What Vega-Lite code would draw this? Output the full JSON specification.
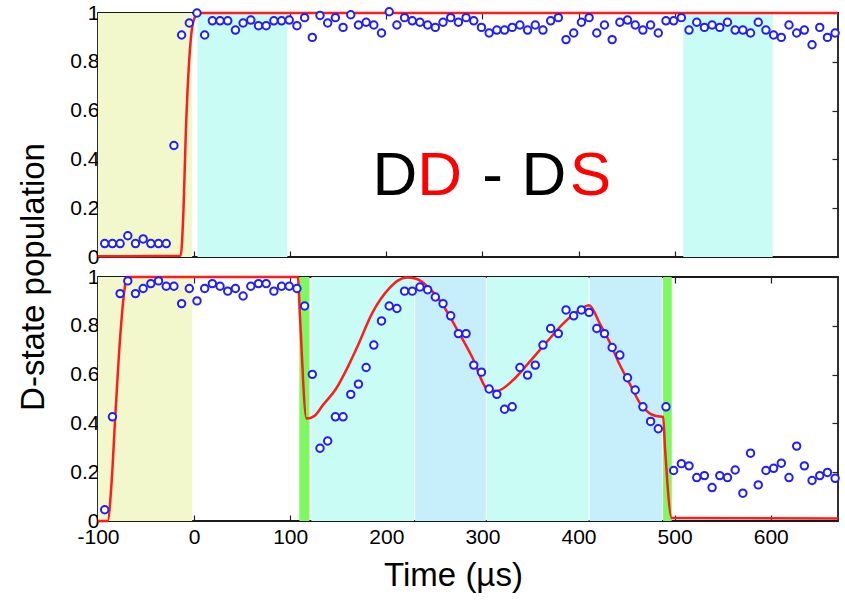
{
  "$schema": "https://vega.github.io/schema/vega-lite/v6.json",
  "background": "white",
  "padding": {"left": 17, "top": 1, "right": 5, "bottom": 2},
  "spacing": 20,
  "bounds": "flush",
  "title": {"text": "D-state population", "orient": "left", "anchor": "middle", "font": "Liberation Sans", "fontSize": 33, "fontWeight": "normal", "color": "black", "offset": 18, "dx": 20},
  "config": {
    "view": {"stroke": "#1a1a1a", "strokeWidth": 1.8},
    "axis": {"domain": false, "grid": false, "minExtent": 0, "tickColor": "#222222", "tickWidth": 1.2, "tickSize": -6, "labelColor": "black", "labelFont": "Liberation Sans", "labelFontSize": 21, "labelFlush": false, "labelOverlap": false, "titleFont": "Liberation Sans", "titleFontSize": 33, "titleFontWeight": "normal", "titleColor": "black", "zindex": 1}
  },
  "datasets": {
    "bands": [
      {"panel": "top", "start": -100, "end": -2, "kind": "yellow"},
      {"panel": "top", "start": 3.5, "end": 97, "kind": "cyan"},
      {"panel": "top", "start": 509, "end": 602, "kind": "cyan"},
      {"panel": "bottom", "start": -100, "end": -2, "kind": "yellow"},
      {"panel": "bottom", "start": 109.5, "end": 120, "kind": "green"},
      {"panel": "bottom", "start": 122, "end": 229, "kind": "cyan"},
      {"panel": "bottom", "start": 230, "end": 303.5, "kind": "lightblue"},
      {"panel": "bottom", "start": 304.5, "end": 410.5, "kind": "cyan"},
      {"panel": "bottom", "start": 411.5, "end": 487, "kind": "lightblue"},
      {"panel": "bottom", "start": 488, "end": 497, "kind": "green"}
    ],
    "fitTop": [
      {"t": -100, "v": 0.003}, {"t": -14, "v": 0.005}, {"t": -11, "v": 0.2}, {"t": -8.7, "v": 0.5},
      {"t": -3.5, "v": 0.89}, {"t": 0, "v": 0.975}, {"t": 5, "v": 1.0}, {"t": 670, "v": 1.0}
    ],
    "fitBottom": [
      {"t": -100, "v": 0.0}, {"t": -90, "v": 0.0}, {"t": -86, "v": 0.15}, {"t": -82, "v": 0.43},
      {"t": -77, "v": 0.75}, {"t": -73, "v": 0.93}, {"t": -70, "v": 1.0}, {"t": 108, "v": 1.0},
      {"t": 110, "v": 0.85}, {"t": 117, "v": 0.42}, {"t": 125, "v": 0.43}, {"t": 134, "v": 0.475},
      {"t": 148, "v": 0.544}, {"t": 161, "v": 0.64}, {"t": 169, "v": 0.707}, {"t": 186, "v": 0.857},
      {"t": 203, "v": 0.953}, {"t": 212, "v": 0.985}, {"t": 221, "v": 0.998}, {"t": 231, "v": 0.993},
      {"t": 245, "v": 0.953}, {"t": 259, "v": 0.884}, {"t": 273, "v": 0.789}, {"t": 290, "v": 0.666},
      {"t": 304, "v": 0.544}, {"t": 309, "v": 0.535}, {"t": 315, "v": 0.533}, {"t": 332, "v": 0.578},
      {"t": 349, "v": 0.652}, {"t": 367, "v": 0.734}, {"t": 384, "v": 0.809}, {"t": 401, "v": 0.864},
      {"t": 411, "v": 0.884}, {"t": 422, "v": 0.81}, {"t": 433, "v": 0.728}, {"t": 443, "v": 0.639},
      {"t": 454, "v": 0.557}, {"t": 464, "v": 0.482}, {"t": 474, "v": 0.441}, {"t": 481, "v": 0.43},
      {"t": 488, "v": 0.427}, {"t": 490, "v": 0.3}, {"t": 497, "v": 0.012}, {"t": 670, "v": 0.01}
    ],
    "pointsTop": [
      {"t": -93, "v": 0.055}, {"t": -85, "v": 0.055}, {"t": -77, "v": 0.055}, {"t": -69, "v": 0.087},
      {"t": -61, "v": 0.055}, {"t": -53, "v": 0.074}, {"t": -45, "v": 0.055}, {"t": -37, "v": 0.055},
      {"t": -29, "v": 0.055}, {"t": -21, "v": 0.457}, {"t": -13, "v": 0.91}, {"t": -5, "v": 0.959},
      {"t": 3, "v": 1.0}, {"t": 11, "v": 0.91}, {"t": 19, "v": 0.968}, {"t": 27, "v": 0.968},
      {"t": 35, "v": 0.968}, {"t": 43, "v": 0.93}, {"t": 51, "v": 0.959}, {"t": 59, "v": 0.971},
      {"t": 67, "v": 0.948}, {"t": 75, "v": 0.948}, {"t": 83, "v": 0.968}, {"t": 91, "v": 0.968},
      {"t": 99, "v": 0.971}, {"t": 107, "v": 0.948}, {"t": 115, "v": 0.981}, {"t": 123, "v": 0.9},
      {"t": 131, "v": 0.99}, {"t": 139, "v": 0.959}, {"t": 147, "v": 0.981}, {"t": 155, "v": 0.941},
      {"t": 163, "v": 0.993}, {"t": 171, "v": 0.951}, {"t": 179, "v": 0.962}, {"t": 187, "v": 0.951},
      {"t": 195, "v": 0.918}, {"t": 203, "v": 1.005}, {"t": 211, "v": 0.951}, {"t": 219, "v": 0.981},
      {"t": 227, "v": 0.968}, {"t": 235, "v": 0.962}, {"t": 243, "v": 0.951}, {"t": 251, "v": 0.941},
      {"t": 259, "v": 0.962}, {"t": 267, "v": 0.981}, {"t": 275, "v": 0.962}, {"t": 283, "v": 0.981},
      {"t": 291, "v": 0.968}, {"t": 299, "v": 0.941}, {"t": 307, "v": 0.918}, {"t": 315, "v": 0.93},
      {"t": 323, "v": 0.93}, {"t": 331, "v": 0.941}, {"t": 339, "v": 0.951}, {"t": 347, "v": 0.93},
      {"t": 355, "v": 0.951}, {"t": 363, "v": 0.93}, {"t": 371, "v": 0.968}, {"t": 379, "v": 0.981},
      {"t": 387, "v": 0.891}, {"t": 395, "v": 0.918}, {"t": 403, "v": 0.962}, {"t": 411, "v": 0.981},
      {"t": 419, "v": 0.918}, {"t": 427, "v": 0.951}, {"t": 435, "v": 0.891}, {"t": 443, "v": 0.962},
      {"t": 451, "v": 0.971}, {"t": 459, "v": 0.951}, {"t": 467, "v": 0.93}, {"t": 475, "v": 0.951},
      {"t": 483, "v": 0.918}, {"t": 491, "v": 0.968}, {"t": 499, "v": 0.968}, {"t": 507, "v": 0.981},
      {"t": 515, "v": 0.93}, {"t": 523, "v": 0.962}, {"t": 531, "v": 0.941}, {"t": 539, "v": 0.951},
      {"t": 547, "v": 0.941}, {"t": 555, "v": 0.962}, {"t": 563, "v": 0.93}, {"t": 571, "v": 0.93},
      {"t": 579, "v": 0.918}, {"t": 587, "v": 0.962}, {"t": 595, "v": 0.93}, {"t": 603, "v": 0.91},
      {"t": 611, "v": 0.9}, {"t": 619, "v": 0.951}, {"t": 627, "v": 0.918}, {"t": 635, "v": 0.93},
      {"t": 643, "v": 0.87}, {"t": 651, "v": 0.941}, {"t": 659, "v": 0.9}, {"t": 667, "v": 0.918}
    ],
    "pointsBottom": [
      {"t": -93, "v": 0.046}, {"t": -85, "v": 0.427}, {"t": -77, "v": 0.932}, {"t": -69, "v": 0.984},
      {"t": -61, "v": 0.932}, {"t": -53, "v": 0.953}, {"t": -45, "v": 0.973}, {"t": -37, "v": 0.984},
      {"t": -29, "v": 0.962}, {"t": -21, "v": 0.962}, {"t": -13, "v": 0.891}, {"t": -5, "v": 0.953},
      {"t": 3, "v": 0.902}, {"t": 11, "v": 0.953}, {"t": 19, "v": 0.973}, {"t": 27, "v": 0.962},
      {"t": 35, "v": 0.942}, {"t": 43, "v": 0.953}, {"t": 51, "v": 0.922}, {"t": 59, "v": 0.962},
      {"t": 67, "v": 0.973}, {"t": 75, "v": 0.973}, {"t": 83, "v": 0.942}, {"t": 91, "v": 0.962},
      {"t": 99, "v": 0.962}, {"t": 107, "v": 0.953}, {"t": 115, "v": 0.881}, {"t": 123, "v": 0.601},
      {"t": 131, "v": 0.298}, {"t": 139, "v": 0.328}, {"t": 147, "v": 0.427}, {"t": 155, "v": 0.427},
      {"t": 163, "v": 0.519}, {"t": 171, "v": 0.561}, {"t": 179, "v": 0.629}, {"t": 187, "v": 0.721},
      {"t": 195, "v": 0.82}, {"t": 203, "v": 0.881}, {"t": 211, "v": 0.871}, {"t": 219, "v": 0.942},
      {"t": 227, "v": 0.942}, {"t": 235, "v": 0.959}, {"t": 243, "v": 0.948}, {"t": 251, "v": 0.918},
      {"t": 259, "v": 0.891}, {"t": 267, "v": 0.841}, {"t": 275, "v": 0.768}, {"t": 283, "v": 0.768},
      {"t": 291, "v": 0.639}, {"t": 299, "v": 0.61}, {"t": 307, "v": 0.541}, {"t": 315, "v": 0.519},
      {"t": 323, "v": 0.458}, {"t": 331, "v": 0.468}, {"t": 339, "v": 0.629}, {"t": 347, "v": 0.598},
      {"t": 355, "v": 0.639}, {"t": 363, "v": 0.721}, {"t": 371, "v": 0.789}, {"t": 379, "v": 0.768},
      {"t": 387, "v": 0.865}, {"t": 395, "v": 0.841}, {"t": 403, "v": 0.865}, {"t": 411, "v": 0.855},
      {"t": 419, "v": 0.789}, {"t": 427, "v": 0.768}, {"t": 435, "v": 0.711}, {"t": 443, "v": 0.68},
      {"t": 451, "v": 0.587}, {"t": 459, "v": 0.537}, {"t": 467, "v": 0.468}, {"t": 475, "v": 0.408},
      {"t": 483, "v": 0.378}, {"t": 491, "v": 0.468}, {"t": 499, "v": 0.207}, {"t": 507, "v": 0.235},
      {"t": 515, "v": 0.226}, {"t": 523, "v": 0.178}, {"t": 531, "v": 0.186}, {"t": 539, "v": 0.137},
      {"t": 547, "v": 0.186}, {"t": 555, "v": 0.178}, {"t": 563, "v": 0.209}, {"t": 571, "v": 0.114},
      {"t": 579, "v": 0.278}, {"t": 587, "v": 0.148}, {"t": 595, "v": 0.207}, {"t": 603, "v": 0.216},
      {"t": 611, "v": 0.237}, {"t": 619, "v": 0.178}, {"t": 627, "v": 0.307}, {"t": 635, "v": 0.226},
      {"t": 643, "v": 0.166}, {"t": 651, "v": 0.186}, {"t": 659, "v": 0.199}, {"t": 667, "v": 0.175}
    ],
    "label": [
      {"ch": "D", "t": 209, "v": 0.2525, "part": "plain"},
      {"ch": "D", "t": 255.5, "v": 0.2525, "part": "state"},
      {"ch": "-", "t": 310.7, "v": 0.2525, "part": "plain"},
      {"ch": "D", "t": 364, "v": 0.2525, "part": "plain"},
      {"ch": "S", "t": 412.4, "v": 0.2525, "part": "state"}
    ]
  },
  "vconcat": [
    {
      "width": 740,
      "height": 244,
      "layer": [
        {
          "data": {"name": "bands"},
          "transform": [{"filter": "datum.panel === 'top'"}],
          "mark": {"type": "rect"},
          "encoding": {
            "x": {"field": "start", "type": "quantitative", "scale": {"domain": [-100, 670], "nice": false, "zero": false}, "axis": null},
            "x2": {"field": "end"},
            "fill": {"field": "kind", "type": "nominal", "scale": {"domain": ["yellow", "cyan", "lightblue", "green"], "range": ["#f3f8cc", "#c8fcf5", "#c6eefb", "#7cf95e"]}, "legend": null}
          }
        },
        {
          "data": {"name": "fitTop"},
          "mark": {"type": "line", "color": "#ff1c1c", "strokeWidth": 2.5, "interpolate": "monotone"},
          "encoding": {
            "x": {"field": "t", "type": "quantitative", "scale": {"domain": [-100, 670], "nice": false, "zero": false},
                  "axis": {"orient": "bottom", "values": [-100, 0, 100, 200, 300, 400, 500, 600], "labels": false, "title": null}},
            "y": {"field": "v", "type": "quantitative", "scale": {"domain": [0, 1], "nice": false, "zero": false},
                  "axis": {"orient": "left", "values": [0, 0.2, 0.4, 0.6, 0.8, 1], "format": ".1~f", "title": null, "labelPadding": 5}}
          }
        },
        {
          "data": {"name": "pointsTop"},
          "mark": {"type": "point", "shape": "circle", "filled": false, "fill": "white", "fillOpacity": 1, "stroke": "#1e1eff", "strokeWidth": 2, "size": 55, "opacity": 1},
          "encoding": {
            "x": {"field": "t", "type": "quantitative", "scale": {"domain": [-100, 670], "nice": false, "zero": false},
                  "axis": {"orient": "top", "values": [-100, 0, 100, 200, 300, 400, 500, 600], "labels": false, "title": null}},
            "y": {"field": "v", "type": "quantitative", "scale": {"domain": [0, 1], "nice": false, "zero": false},
                  "axis": {"orient": "right", "values": [0, 0.2, 0.4, 0.6, 0.8, 1], "labels": false, "title": null}}
          }
        },
        {
          "data": {"name": "label"},
          "mark": {"type": "text", "font": "Liberation Sans", "fontSize": 62, "baseline": "alphabetic", "align": "center"},
          "encoding": {
            "x": {"field": "t", "type": "quantitative", "axis": null},
            "y": {"field": "v", "type": "quantitative", "axis": null},
            "text": {"field": "ch"},
            "color": {"field": "part", "type": "nominal", "scale": {"domain": ["plain", "state"], "range": ["#000000", "#ff0000"]}, "legend": null}
          }
        }
      ],
      "resolve": {"axis": {"x": "independent", "y": "independent"}}
    },
    {
      "width": 740,
      "height": 244,
      "layer": [
        {
          "data": {"name": "bands"},
          "transform": [{"filter": "datum.panel === 'bottom'"}],
          "mark": {"type": "rect"},
          "encoding": {
            "x": {"field": "start", "type": "quantitative", "scale": {"domain": [-100, 670], "nice": false, "zero": false}, "axis": null},
            "x2": {"field": "end"},
            "fill": {"field": "kind", "type": "nominal", "scale": {"domain": ["yellow", "cyan", "lightblue", "green"], "range": ["#f3f8cc", "#c8fcf5", "#c6eefb", "#7cf95e"]}, "legend": null}
          }
        },
        {
          "data": {"name": "fitBottom"},
          "mark": {"type": "line", "color": "#ff1c1c", "strokeWidth": 2.5, "interpolate": "monotone"},
          "encoding": {
            "x": {"field": "t", "type": "quantitative", "scale": {"domain": [-100, 670], "nice": false, "zero": false},
                  "axis": {"orient": "bottom", "values": [-100, 0, 100, 200, 300, 400, 500, 600], "labelExpr": "'' + datum.value", "labelPadding": 11, "title": "Time (µs)", "titlePadding": 12, "titleX": 355}},
            "y": {"field": "v", "type": "quantitative", "scale": {"domain": [0, 1], "nice": false, "zero": false},
                  "axis": {"orient": "left", "values": [0, 0.2, 0.4, 0.6, 0.8, 1], "format": ".1~f", "title": null, "labelPadding": 5}}
          }
        },
        {
          "data": {"name": "pointsBottom"},
          "mark": {"type": "point", "shape": "circle", "filled": false, "fill": "white", "fillOpacity": 1, "stroke": "#1e1eff", "strokeWidth": 2, "size": 55, "opacity": 1},
          "encoding": {
            "x": {"field": "t", "type": "quantitative", "scale": {"domain": [-100, 670], "nice": false, "zero": false},
                  "axis": {"orient": "top", "values": [-100, 0, 100, 200, 300, 400, 500, 600], "labels": false, "title": null}},
            "y": {"field": "v", "type": "quantitative", "scale": {"domain": [0, 1], "nice": false, "zero": false},
                  "axis": {"orient": "right", "values": [0, 0.2, 0.4, 0.6, 0.8, 1], "labels": false, "title": null}}
          }
        }
      ],
      "resolve": {"axis": {"x": "independent", "y": "independent"}}
    }
  ]
}
